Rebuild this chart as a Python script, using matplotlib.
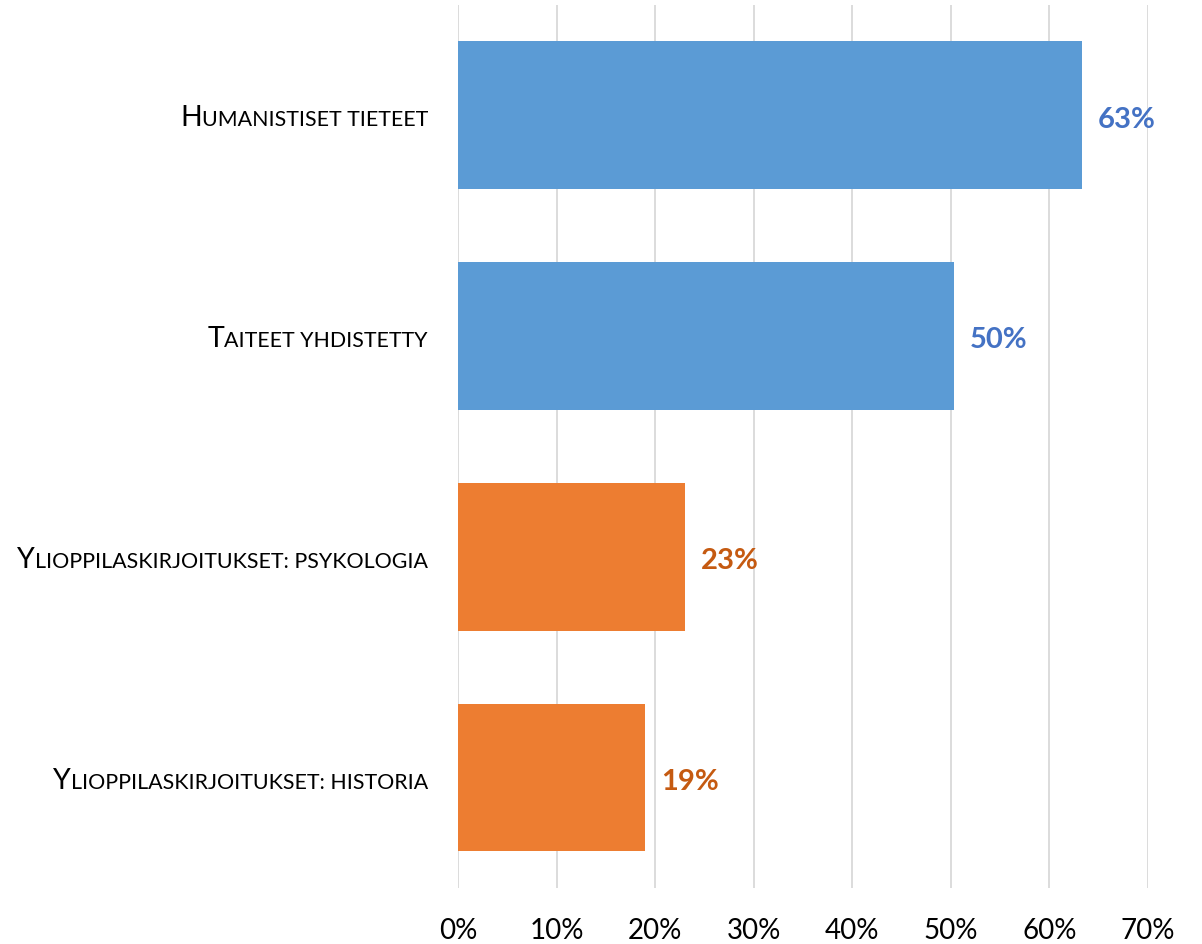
import matplotlib.pyplot as plt
from matplotlib.transforms import ScaledTranslation

plt.rcParams['font.family'] = ['Lato', 'DejaVu Sans']

categories = ['Humanistiset tieteet', 'Taiteet yhdistetty',
              'Ylioppilaskirjoitukset: psykologia', 'Ylioppilaskirjoitukset: historia']
values = [63.3, 50.3, 23.0, 19.0]
value_labels = ['63%', '50%', '23%', '19%']
bar_colors = ['#5B9BD5', '#5B9BD5', '#ED7D31', '#ED7D31']
label_colors = ['#4472C4', '#4472C4', '#C55A11', '#C55A11']
xticks = [0, 10, 20, 30, 40, 50, 60, 70]

fig = plt.figure(figsize=(12.02, 9.45), dpi=100)
ax = fig.add_axes([0.381, 0.059, 0.574, 0.935])

ypos = list(range(len(categories)))
ax.barh(ypos, values, height=0.667, color=bar_colors, zorder=2)
ax.set_ylim(len(categories) - 0.5, -0.5)
ax.set_xlim(0, 70)
ax.set_xticks(xticks)
ax.set_xticklabels([f'{t}%' for t in xticks], fontsize=20)
ax.set_yticks([])
ax.tick_params(axis='x', length=0, pad=21)
ax.grid(axis='x', color='#D9D9D9', linewidth=1.3, zorder=0)
for s in ax.spines.values():
    s.set_visible(False)

for y, v, lab, c in zip(ypos, values, value_labels, label_colors):
    ax.annotate(lab, (v, y), xytext=(11.5, -2.5), textcoords='offset points',
                va='center', ha='left', fontsize=21, fontweight='bold', color=c)

# small caps category labels: big first letter + smaller uppercase rest
pad = 30 / 100
rests = []
for y, cat in zip(ypos, categories):
    tr = ax.get_yaxis_transform() + ScaledTranslation(-pad, -10 / 100, fig.dpi_scale_trans)
    t = ax.text(0, y, cat[1:].upper(), transform=tr, ha='right', va='baseline',
                fontsize=15.4, color='#000000')
    rests.append(t)

fig.canvas.draw()
r = fig.canvas.get_renderer()
for y, cat, t in zip(ypos, categories, rests):
    w = t.get_window_extent(r).width / fig.dpi
    tr = ax.get_yaxis_transform() + ScaledTranslation(-pad - w, -10 / 100, fig.dpi_scale_trans)
    ax.text(0, y, cat[0].upper(), transform=tr, ha='right', va='baseline',
            fontsize=20.5, color='#000000')

fig.savefig('out.png', dpi=100)
